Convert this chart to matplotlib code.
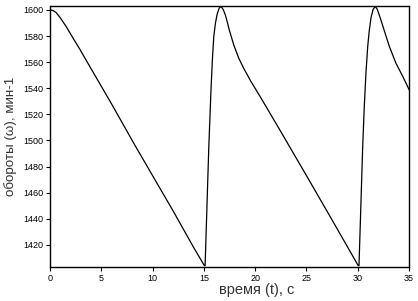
import matplotlib
matplotlib.use("Agg")
import matplotlib.pyplot as plt

# speed vs time
T = [0.0, 0.3, 0.6, 1.0, 1.6, 2.2, 2.9, 4.0, 6.0, 8.3, 10.0, 12.0, 14.0, 15.05,
     15.12, 15.48, 15.7, 15.85, 15.97, 16.13, 16.3, 16.5, 16.69, 16.9, 17.1, 17.27,
     17.5, 17.92, 18.4, 18.9, 19.6, 20.53, 22.48, 25.0, 27.5, 30.05,
     30.12, 30.48, 30.63, 30.8, 30.97, 31.12, 31.29, 31.5, 31.71, 31.9, 32.1,
     32.35, 32.59, 33.08, 33.73, 34.39, 35.0]
OMEGA = [1600, 1599.5, 1598, 1594, 1587, 1579, 1570, 1555, 1528, 1496, 1473, 1446, 1418, 1404,
         1404, 1495, 1540, 1565, 1580, 1590, 1597, 1601.5, 1602.7, 1600, 1596, 1591,
         1584, 1573, 1563, 1555, 1545, 1533, 1507, 1473, 1439, 1404,
         1404, 1495, 1525, 1552, 1572, 1584, 1594, 1600.5, 1602.7, 1600.5, 1596,
         1590, 1584, 1572, 1559, 1549, 1539]

X_TICKS = [0, 5, 10, 15, 20, 25, 30, 35]
Y_TICKS = [1420, 1440, 1460, 1480, 1500, 1520, 1540, 1560, 1580, 1600]

plt.rcParams['font.family'] = ['Liberation Sans', 'DejaVu Sans']

fig = plt.figure(figsize=(4.18, 3.01), dpi=100)
ax = fig.add_axes([0.1196, 0.113, 0.859, 0.867])

ax.plot(T, OMEGA, color='black', linewidth=0.9)

ax.set_xlim(0, 35)
ax.set_ylim(1403, 1603)
ax.set_xticks(X_TICKS)
ax.set_yticks(Y_TICKS)
ax.tick_params(direction='out', length=3, width=0.8, labelsize=6.5, pad=2)
for s in ax.spines.values():
    s.set_linewidth(1.0)

ax.set_xlabel("время (t), с", fontsize=10.5, color='#333333')
ax.xaxis.set_label_coords(0.577, -0.062)
ax.set_ylabel("обороты (ω), мин-1", fontsize=9.6, color='#333333', labelpad=4)

plt.savefig("out.png", dpi=100)
